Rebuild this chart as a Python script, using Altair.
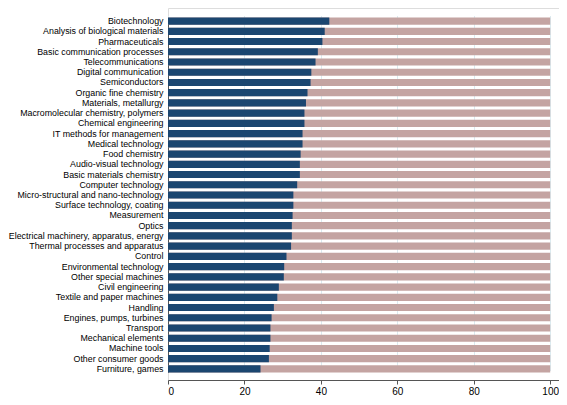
import altair as alt
import pandas as pd

categories = [
    "Biotechnology", "Analysis of biological materials", "Pharmaceuticals",
    "Basic communication processes", "Telecommunications", "Digital communication",
    "Semiconductors", "Organic fine chemistry", "Materials, metallurgy",
    "Macromolecular chemistry, polymers", "Chemical engineering",
    "IT methods for management", "Medical technology", "Food chemistry",
    "Audio-visual technology", "Basic materials chemistry", "Computer technology",
    "Micro-structural and nano-technology", "Surface technology, coating",
    "Measurement", "Optics", "Electrical machinery, apparatus, energy",
    "Thermal processes and apparatus", "Control", "Environmental technology",
    "Other special machines", "Civil engineering", "Textile and paper machines",
    "Handling", "Engines, pumps, turbines", "Transport", "Mechanical elements",
    "Machine tools", "Other consumer goods", "Furniture, games",
]
share = [
    42.2, 41.0, 40.4, 39.2, 38.6, 37.5, 37.3, 36.5, 36.1, 35.7, 35.7, 35.2,
    35.2, 34.7, 34.5, 34.5, 33.8, 32.8, 32.8, 32.6, 32.4, 32.4, 32.2, 31.0,
    30.4, 30.3, 29.0, 28.6, 27.7, 27.1, 26.8, 26.8, 26.6, 26.4, 24.2,
]
total = [100.0] * len(categories)

df = pd.DataFrame({"category": categories, "share": share, "total": total})

yscale = alt.Scale(paddingInner=0.3, paddingOuter=0, range=[9.5, 364.5])
yenc = alt.Y("category:N", sort=categories, scale=yscale,
             axis=alt.Axis(title=None, ticks=False, labelPadding=5, labelFontSize=8.85,
                           labelFont="Liberation Sans", labelColor="#000000",
                           domainColor="#555555", labelLimit=300, grid=False))
xscale = alt.Scale(domain=[0, 102.3], nice=False)
xaxis = alt.Axis(title=None, values=[0, 20, 40, 60, 80, 100], labelFontSize=10,
                 labelFont="Liberation Sans", labelColor="#000000", tickSize=4,
                 tickColor="#555555", domainColor="#555555", grid=True,
                 gridColor="#dcebf0", labelPadding=2)

bg = alt.Chart(df).mark_bar(color="#c4a4a2").encode(
    x=alt.X("total:Q", scale=xscale, axis=xaxis), y=yenc)
fg = alt.Chart(df).mark_bar(color="#1b4670").encode(
    x=alt.X("share:Q", scale=xscale), y=yenc)

chart = (bg + fg).properties(
    width=391, height=372,
    autosize=alt.AutoSizeParams(type="none"),
    padding={"left": 160, "top": 0, "right": 0, "bottom": 17},
).configure_view(stroke=None).configure(background="white")

chart.save("out.html", embed_options={"renderer": "svg", "actions": False})
